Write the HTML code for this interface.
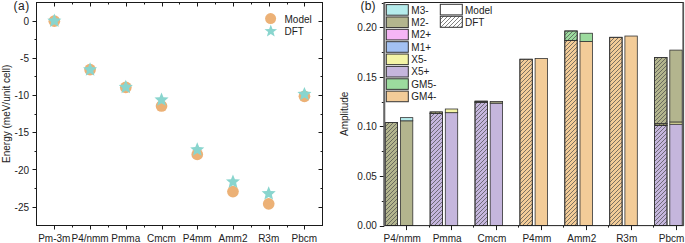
<!DOCTYPE html>
<html><head><meta charset="utf-8"><style>
html,body{margin:0;padding:0;background:#fff;}
body{width:685px;height:243px;overflow:hidden;}
svg{display:block;}
</style></head><body>
<svg width="685" height="243" viewBox="0 0 685 243">
<defs><pattern id="hatch" patternUnits="userSpaceOnUse" x="0" y="0" width="4" height="4">
<path d="M-1,1 L1,-1 M0,4 L4,0 M3,5 L5,3" stroke="#4a4a4a" stroke-width="0.7"/></pattern></defs>
<line x1="54.5" y1="225.5" x2="54.5" y2="229.5" stroke="#1a1a1a" stroke-width="1"/>
<line x1="54.5" y1="2.5" x2="54.5" y2="6.5" stroke="#1a1a1a" stroke-width="1"/>
<line x1="90.5" y1="225.5" x2="90.5" y2="229.5" stroke="#1a1a1a" stroke-width="1"/>
<line x1="90.5" y1="2.5" x2="90.5" y2="6.5" stroke="#1a1a1a" stroke-width="1"/>
<line x1="126.5" y1="225.5" x2="126.5" y2="229.5" stroke="#1a1a1a" stroke-width="1"/>
<line x1="126.5" y1="2.5" x2="126.5" y2="6.5" stroke="#1a1a1a" stroke-width="1"/>
<line x1="162.5" y1="225.5" x2="162.5" y2="229.5" stroke="#1a1a1a" stroke-width="1"/>
<line x1="162.5" y1="2.5" x2="162.5" y2="6.5" stroke="#1a1a1a" stroke-width="1"/>
<line x1="197.5" y1="225.5" x2="197.5" y2="229.5" stroke="#1a1a1a" stroke-width="1"/>
<line x1="197.5" y1="2.5" x2="197.5" y2="6.5" stroke="#1a1a1a" stroke-width="1"/>
<line x1="233.5" y1="225.5" x2="233.5" y2="229.5" stroke="#1a1a1a" stroke-width="1"/>
<line x1="233.5" y1="2.5" x2="233.5" y2="6.5" stroke="#1a1a1a" stroke-width="1"/>
<line x1="269.5" y1="225.5" x2="269.5" y2="229.5" stroke="#1a1a1a" stroke-width="1"/>
<line x1="269.5" y1="2.5" x2="269.5" y2="6.5" stroke="#1a1a1a" stroke-width="1"/>
<line x1="304.5" y1="225.5" x2="304.5" y2="229.5" stroke="#1a1a1a" stroke-width="1"/>
<line x1="304.5" y1="2.5" x2="304.5" y2="6.5" stroke="#1a1a1a" stroke-width="1"/>
<line x1="72.5" y1="225.5" x2="72.5" y2="227.5" stroke="#1a1a1a" stroke-width="1"/>
<line x1="72.5" y1="2.5" x2="72.5" y2="4.5" stroke="#1a1a1a" stroke-width="1"/>
<line x1="108.5" y1="225.5" x2="108.5" y2="227.5" stroke="#1a1a1a" stroke-width="1"/>
<line x1="108.5" y1="2.5" x2="108.5" y2="4.5" stroke="#1a1a1a" stroke-width="1"/>
<line x1="144.5" y1="225.5" x2="144.5" y2="227.5" stroke="#1a1a1a" stroke-width="1"/>
<line x1="144.5" y1="2.5" x2="144.5" y2="4.5" stroke="#1a1a1a" stroke-width="1"/>
<line x1="179.5" y1="225.5" x2="179.5" y2="227.5" stroke="#1a1a1a" stroke-width="1"/>
<line x1="179.5" y1="2.5" x2="179.5" y2="4.5" stroke="#1a1a1a" stroke-width="1"/>
<line x1="215.5" y1="225.5" x2="215.5" y2="227.5" stroke="#1a1a1a" stroke-width="1"/>
<line x1="215.5" y1="2.5" x2="215.5" y2="4.5" stroke="#1a1a1a" stroke-width="1"/>
<line x1="251.5" y1="225.5" x2="251.5" y2="227.5" stroke="#1a1a1a" stroke-width="1"/>
<line x1="251.5" y1="2.5" x2="251.5" y2="4.5" stroke="#1a1a1a" stroke-width="1"/>
<line x1="287.5" y1="225.5" x2="287.5" y2="227.5" stroke="#1a1a1a" stroke-width="1"/>
<line x1="287.5" y1="2.5" x2="287.5" y2="4.5" stroke="#1a1a1a" stroke-width="1"/>
<line x1="32.5" y1="21.5" x2="36.5" y2="21.5" stroke="#1a1a1a" stroke-width="1"/>
<line x1="318.5" y1="21.5" x2="322.5" y2="21.5" stroke="#1a1a1a" stroke-width="1"/>
<text x="29.0" y="24.7" text-anchor="end" font-size="10" font-family="Liberation Sans, sans-serif" fill="#222">0</text>
<line x1="32.5" y1="58.5" x2="36.5" y2="58.5" stroke="#1a1a1a" stroke-width="1"/>
<line x1="318.5" y1="58.5" x2="322.5" y2="58.5" stroke="#1a1a1a" stroke-width="1"/>
<text x="29.0" y="61.9" text-anchor="end" font-size="10" font-family="Liberation Sans, sans-serif" fill="#222">-5</text>
<line x1="32.5" y1="95.5" x2="36.5" y2="95.5" stroke="#1a1a1a" stroke-width="1"/>
<line x1="318.5" y1="95.5" x2="322.5" y2="95.5" stroke="#1a1a1a" stroke-width="1"/>
<text x="29.0" y="99.1" text-anchor="end" font-size="10" font-family="Liberation Sans, sans-serif" fill="#222">-10</text>
<line x1="32.5" y1="132.5" x2="36.5" y2="132.5" stroke="#1a1a1a" stroke-width="1"/>
<line x1="318.5" y1="132.5" x2="322.5" y2="132.5" stroke="#1a1a1a" stroke-width="1"/>
<text x="29.0" y="136.3" text-anchor="end" font-size="10" font-family="Liberation Sans, sans-serif" fill="#222">-15</text>
<line x1="32.5" y1="169.5" x2="36.5" y2="169.5" stroke="#1a1a1a" stroke-width="1"/>
<line x1="318.5" y1="169.5" x2="322.5" y2="169.5" stroke="#1a1a1a" stroke-width="1"/>
<text x="29.0" y="173.5" text-anchor="end" font-size="10" font-family="Liberation Sans, sans-serif" fill="#222">-20</text>
<line x1="32.5" y1="207.5" x2="36.5" y2="207.5" stroke="#1a1a1a" stroke-width="1"/>
<line x1="318.5" y1="207.5" x2="322.5" y2="207.5" stroke="#1a1a1a" stroke-width="1"/>
<text x="29.0" y="210.7" text-anchor="end" font-size="10" font-family="Liberation Sans, sans-serif" fill="#222">-25</text>
<line x1="34.5" y1="39.5" x2="36.5" y2="39.5" stroke="#1a1a1a" stroke-width="1"/>
<line x1="320.5" y1="39.5" x2="322.5" y2="39.5" stroke="#1a1a1a" stroke-width="1"/>
<line x1="34.5" y1="76.5" x2="36.5" y2="76.5" stroke="#1a1a1a" stroke-width="1"/>
<line x1="320.5" y1="76.5" x2="322.5" y2="76.5" stroke="#1a1a1a" stroke-width="1"/>
<line x1="34.5" y1="114.5" x2="36.5" y2="114.5" stroke="#1a1a1a" stroke-width="1"/>
<line x1="320.5" y1="114.5" x2="322.5" y2="114.5" stroke="#1a1a1a" stroke-width="1"/>
<line x1="34.5" y1="151.5" x2="36.5" y2="151.5" stroke="#1a1a1a" stroke-width="1"/>
<line x1="320.5" y1="151.5" x2="322.5" y2="151.5" stroke="#1a1a1a" stroke-width="1"/>
<line x1="34.5" y1="188.5" x2="36.5" y2="188.5" stroke="#1a1a1a" stroke-width="1"/>
<line x1="320.5" y1="188.5" x2="322.5" y2="188.5" stroke="#1a1a1a" stroke-width="1"/>
<rect x="36.5" y="2.5" width="286.0" height="223.0" fill="none" stroke="#1a1a1a" stroke-width="1"/>
<text x="54.3" y="241.7" text-anchor="middle" font-size="10" font-family="Liberation Sans, sans-serif" fill="#222">Pm-3m</text>
<text x="90.1" y="241.7" text-anchor="middle" font-size="10" font-family="Liberation Sans, sans-serif" fill="#222">P4/nmm</text>
<text x="125.8" y="241.7" text-anchor="middle" font-size="10" font-family="Liberation Sans, sans-serif" fill="#222">Pmma</text>
<text x="161.5" y="241.7" text-anchor="middle" font-size="10" font-family="Liberation Sans, sans-serif" fill="#222">Cmcm</text>
<text x="197.2" y="241.7" text-anchor="middle" font-size="10" font-family="Liberation Sans, sans-serif" fill="#222">P4mm</text>
<text x="233.0" y="241.7" text-anchor="middle" font-size="10" font-family="Liberation Sans, sans-serif" fill="#222">Amm2</text>
<text x="268.7" y="241.7" text-anchor="middle" font-size="10" font-family="Liberation Sans, sans-serif" fill="#222">R3m</text>
<text x="304.4" y="241.7" text-anchor="middle" font-size="10" font-family="Liberation Sans, sans-serif" fill="#222">Pbcm</text>
<circle cx="54.34" cy="21.20" r="5.85" fill="#ECB176"/>
<circle cx="90.07" cy="69.56" r="5.85" fill="#ECB176"/>
<circle cx="125.79" cy="87.42" r="5.85" fill="#ECB176"/>
<circle cx="161.52" cy="106.02" r="5.85" fill="#ECB176"/>
<circle cx="197.25" cy="154.38" r="5.85" fill="#ECB176"/>
<circle cx="232.97" cy="191.58" r="5.85" fill="#ECB176"/>
<circle cx="268.70" cy="203.85" r="5.85" fill="#ECB176"/>
<circle cx="304.43" cy="96.34" r="5.85" fill="#ECB176"/>
<polygon points="54.34,13.60 56.28,18.33 61.38,18.71 57.48,22.02 58.69,26.99 54.34,24.30 49.99,26.99 51.20,22.02 47.30,18.71 52.40,18.33" fill="#89D5CE"/>
<polygon points="90.07,62.33 92.01,67.06 97.10,67.45 93.21,70.75 94.42,75.72 90.07,73.03 85.72,75.72 86.93,70.75 83.03,67.45 88.13,67.06" fill="#89D5CE"/>
<polygon points="125.79,79.82 127.73,84.55 132.83,84.93 128.93,88.24 130.14,93.20 125.79,90.52 121.44,93.20 122.66,88.24 118.76,84.93 123.85,84.55" fill="#89D5CE"/>
<polygon points="161.52,92.46 163.46,97.19 168.56,97.58 164.66,100.88 165.87,105.85 161.52,103.16 157.17,105.85 158.38,100.88 154.48,97.58 159.58,97.19" fill="#89D5CE"/>
<polygon points="197.25,142.31 199.19,147.04 204.29,147.43 200.39,150.73 201.60,155.70 197.25,153.01 192.90,155.70 194.11,150.73 190.21,147.43 195.31,147.04" fill="#89D5CE"/>
<polygon points="232.97,174.45 234.91,179.18 240.01,179.57 236.11,182.87 237.32,187.84 232.97,185.15 228.63,187.84 229.84,182.87 225.94,179.57 231.04,179.18" fill="#89D5CE"/>
<polygon points="268.70,186.21 270.64,190.94 275.74,191.32 271.84,194.63 273.05,199.59 268.70,196.91 264.35,199.59 265.56,194.63 261.66,191.32 266.76,190.94" fill="#89D5CE"/>
<polygon points="304.43,86.88 306.37,91.61 311.47,92.00 307.57,95.30 308.78,100.27 304.43,97.58 300.08,100.27 301.29,95.30 297.39,92.00 302.49,91.61" fill="#89D5CE"/>
<circle cx="270.6" cy="18.6" r="5.5" fill="#ECB176"/>
<polygon points="270.80,24.60 272.45,28.93 277.08,29.16 273.46,32.07 274.68,36.54 270.80,34.00 266.92,36.54 268.14,32.07 264.52,29.16 269.15,28.93" fill="#89D5CE"/>
<text x="284.5" y="23" font-size="10" font-family="Liberation Sans, sans-serif" fill="#222">Model</text>
<text x="284.5" y="34.6" font-size="10" font-family="Liberation Sans, sans-serif" fill="#222">DFT</text>
<text x="13.5" y="9.7" font-size="12" letter-spacing="0.5" font-family="Liberation Sans, sans-serif" fill="#222">(a)</text>
<text transform="translate(9.6,113.8) rotate(-90)" text-anchor="middle" font-size="10" font-family="Liberation Sans, sans-serif" fill="#222">Energy (meV/unit cell)</text>
<line x1="406.5" y1="225.6" x2="406.5" y2="230.1" stroke="#1a1a1a" stroke-width="1"/>
<line x1="429.5" y1="225.6" x2="429.5" y2="227.6" stroke="#1a1a1a" stroke-width="1"/>
<line x1="451.5" y1="225.6" x2="451.5" y2="230.1" stroke="#1a1a1a" stroke-width="1"/>
<line x1="473.5" y1="225.6" x2="473.5" y2="227.6" stroke="#1a1a1a" stroke-width="1"/>
<line x1="496.5" y1="225.6" x2="496.5" y2="230.1" stroke="#1a1a1a" stroke-width="1"/>
<line x1="518.5" y1="225.6" x2="518.5" y2="227.6" stroke="#1a1a1a" stroke-width="1"/>
<line x1="541.5" y1="225.6" x2="541.5" y2="230.1" stroke="#1a1a1a" stroke-width="1"/>
<line x1="563.5" y1="225.6" x2="563.5" y2="227.6" stroke="#1a1a1a" stroke-width="1"/>
<line x1="586.5" y1="225.6" x2="586.5" y2="230.1" stroke="#1a1a1a" stroke-width="1"/>
<line x1="608.5" y1="225.6" x2="608.5" y2="227.6" stroke="#1a1a1a" stroke-width="1"/>
<line x1="631.5" y1="225.6" x2="631.5" y2="230.1" stroke="#1a1a1a" stroke-width="1"/>
<line x1="653.5" y1="225.6" x2="653.5" y2="227.6" stroke="#1a1a1a" stroke-width="1"/>
<line x1="676.5" y1="225.6" x2="676.5" y2="230.1" stroke="#1a1a1a" stroke-width="1"/>
<line x1="379.8" y1="226.5" x2="384.3" y2="226.5" stroke="#1a1a1a" stroke-width="1"/>
<text x="376.8" y="229.2" text-anchor="end" font-size="10" font-family="Liberation Sans, sans-serif" fill="#222">0.00</text>
<line x1="379.8" y1="176.5" x2="384.3" y2="176.5" stroke="#1a1a1a" stroke-width="1"/>
<text x="376.8" y="179.6" text-anchor="end" font-size="10" font-family="Liberation Sans, sans-serif" fill="#222">0.05</text>
<line x1="379.8" y1="126.5" x2="384.3" y2="126.5" stroke="#1a1a1a" stroke-width="1"/>
<text x="376.8" y="130.0" text-anchor="end" font-size="10" font-family="Liberation Sans, sans-serif" fill="#222">0.10</text>
<line x1="379.8" y1="77.5" x2="384.3" y2="77.5" stroke="#1a1a1a" stroke-width="1"/>
<text x="376.8" y="80.5" text-anchor="end" font-size="10" font-family="Liberation Sans, sans-serif" fill="#222">0.15</text>
<line x1="379.8" y1="27.5" x2="384.3" y2="27.5" stroke="#1a1a1a" stroke-width="1"/>
<text x="376.8" y="30.9" text-anchor="end" font-size="10" font-family="Liberation Sans, sans-serif" fill="#222">0.20</text>
<line x1="381.8" y1="201.5" x2="384.3" y2="201.5" stroke="#1a1a1a" stroke-width="1"/>
<line x1="381.8" y1="151.5" x2="384.3" y2="151.5" stroke="#1a1a1a" stroke-width="1"/>
<line x1="381.8" y1="102.5" x2="384.3" y2="102.5" stroke="#1a1a1a" stroke-width="1"/>
<line x1="381.8" y1="52.5" x2="384.3" y2="52.5" stroke="#1a1a1a" stroke-width="1"/>
<line x1="381.8" y1="3.5" x2="384.3" y2="3.5" stroke="#1a1a1a" stroke-width="1"/>
<rect x="385.20" y="122.48" width="12.4" height="103.12" fill="#B3B58E" stroke="#333" stroke-width="0.8"/>
<rect x="385.20" y="122.48" width="12.4" height="103.12" fill="url(#hatch)" stroke="#333" stroke-width="0.8"/>
<rect x="400.40" y="120.80" width="12.4" height="104.80" fill="#B3B58E" stroke="#333" stroke-width="0.8"/>
<rect x="400.40" y="117.63" width="12.4" height="3.17" fill="#B5ECEC" stroke="#333" stroke-width="0.8"/>
<rect x="430.10" y="113.56" width="12.4" height="112.04" fill="#C5B6DD" stroke="#333" stroke-width="0.8"/>
<rect x="430.10" y="113.56" width="12.4" height="112.04" fill="url(#hatch)" stroke="#333" stroke-width="0.8"/>
<rect x="430.10" y="111.97" width="12.4" height="1.59" fill="#F4F4A6" stroke="#333" stroke-width="0.8"/>
<rect x="430.10" y="111.97" width="12.4" height="1.59" fill="url(#hatch)" stroke="#333" stroke-width="0.8"/>
<rect x="445.30" y="112.67" width="12.4" height="112.93" fill="#C5B6DD" stroke="#333" stroke-width="0.8"/>
<rect x="445.30" y="109.00" width="12.4" height="3.67" fill="#F4F4A6" stroke="#333" stroke-width="0.8"/>
<rect x="475.00" y="102.16" width="12.4" height="123.44" fill="#C5B6DD" stroke="#333" stroke-width="0.8"/>
<rect x="475.00" y="102.16" width="12.4" height="123.44" fill="url(#hatch)" stroke="#333" stroke-width="0.8"/>
<rect x="475.00" y="101.17" width="12.4" height="0.99" fill="#B3B58E" stroke="#333" stroke-width="0.8"/>
<rect x="475.00" y="101.17" width="12.4" height="0.99" fill="url(#hatch)" stroke="#333" stroke-width="0.8"/>
<rect x="490.20" y="103.15" width="12.4" height="122.45" fill="#C5B6DD" stroke="#333" stroke-width="0.8"/>
<rect x="490.20" y="101.46" width="12.4" height="1.69" fill="#B3B58E" stroke="#333" stroke-width="0.8"/>
<rect x="519.90" y="59.23" width="12.4" height="166.37" fill="#F3CC98" stroke="#333" stroke-width="0.8"/>
<rect x="519.90" y="59.23" width="12.4" height="166.37" fill="url(#hatch)" stroke="#333" stroke-width="0.8"/>
<rect x="535.10" y="58.43" width="12.4" height="167.17" fill="#F3CC98" stroke="#333" stroke-width="0.8"/>
<rect x="564.80" y="40.39" width="12.4" height="185.21" fill="#F3CC98" stroke="#333" stroke-width="0.8"/>
<rect x="564.80" y="40.39" width="12.4" height="185.21" fill="url(#hatch)" stroke="#333" stroke-width="0.8"/>
<rect x="564.80" y="30.97" width="12.4" height="9.42" fill="#9CDB9E" stroke="#333" stroke-width="0.8"/>
<rect x="564.80" y="30.97" width="12.4" height="9.42" fill="url(#hatch)" stroke="#333" stroke-width="0.8"/>
<rect x="580.00" y="41.48" width="12.4" height="184.12" fill="#F3CC98" stroke="#333" stroke-width="0.8"/>
<rect x="580.00" y="33.25" width="12.4" height="8.23" fill="#9CDB9E" stroke="#333" stroke-width="0.8"/>
<rect x="609.70" y="37.31" width="12.4" height="188.29" fill="#F3CC98" stroke="#333" stroke-width="0.8"/>
<rect x="609.70" y="37.31" width="12.4" height="188.29" fill="url(#hatch)" stroke="#333" stroke-width="0.8"/>
<rect x="624.90" y="36.03" width="12.4" height="189.57" fill="#F3CC98" stroke="#333" stroke-width="0.8"/>
<rect x="654.60" y="125.46" width="12.4" height="100.14" fill="#C5B6DD" stroke="#333" stroke-width="0.8"/>
<rect x="654.60" y="125.46" width="12.4" height="100.14" fill="url(#hatch)" stroke="#333" stroke-width="0.8"/>
<rect x="654.60" y="123.77" width="12.4" height="1.69" fill="#F4F4A6" stroke="#333" stroke-width="0.8"/>
<rect x="654.60" y="123.77" width="12.4" height="1.69" fill="url(#hatch)" stroke="#333" stroke-width="0.8"/>
<rect x="654.60" y="57.54" width="12.4" height="66.23" fill="#B3B58E" stroke="#333" stroke-width="0.8"/>
<rect x="654.60" y="57.54" width="12.4" height="66.23" fill="url(#hatch)" stroke="#333" stroke-width="0.8"/>
<rect x="669.80" y="124.17" width="12.4" height="101.43" fill="#C5B6DD" stroke="#333" stroke-width="0.8"/>
<rect x="669.80" y="121.99" width="12.4" height="2.18" fill="#F4F4A6" stroke="#333" stroke-width="0.8"/>
<rect x="669.80" y="50.10" width="12.4" height="71.88" fill="#B3B58E" stroke="#333" stroke-width="0.8"/>
<rect x="384.3" y="2.5" width="298.99999999999994" height="223.1" fill="none" stroke="#222" stroke-width="1"/>
<line x1="384.3" y1="2.5" x2="384.3" y2="225.6" stroke="#666" stroke-width="2"/>
<line x1="683.3" y1="2.5" x2="683.3" y2="225.6" stroke="#555" stroke-width="1.6"/>
<text x="402.2" y="241.7" text-anchor="middle" font-size="10" font-family="Liberation Sans, sans-serif" fill="#222">P4/nmm</text>
<text x="447.1" y="241.7" text-anchor="middle" font-size="10" font-family="Liberation Sans, sans-serif" fill="#222">Pmma</text>
<text x="492.0" y="241.7" text-anchor="middle" font-size="10" font-family="Liberation Sans, sans-serif" fill="#222">Cmcm</text>
<text x="536.9" y="241.7" text-anchor="middle" font-size="10" font-family="Liberation Sans, sans-serif" fill="#222">P4mm</text>
<text x="581.8" y="241.7" text-anchor="middle" font-size="10" font-family="Liberation Sans, sans-serif" fill="#222">Amm2</text>
<text x="626.7" y="241.7" text-anchor="middle" font-size="10" font-family="Liberation Sans, sans-serif" fill="#222">R3m</text>
<text x="671.6" y="241.7" text-anchor="middle" font-size="10" font-family="Liberation Sans, sans-serif" fill="#222">Pbcm</text>
<rect x="386.3" y="4.60" width="22" height="10.6" fill="#B5ECEC" stroke="#333" stroke-width="1"/>
<text x="411.3" y="13.50" font-size="10" font-family="Liberation Sans, sans-serif" fill="#222">M3-</text>
<rect x="386.3" y="16.96" width="22" height="10.6" fill="#B3B58E" stroke="#333" stroke-width="1"/>
<text x="411.3" y="25.86" font-size="10" font-family="Liberation Sans, sans-serif" fill="#222">M2-</text>
<rect x="386.3" y="29.32" width="22" height="10.6" fill="#F5B5F5" stroke="#333" stroke-width="1"/>
<text x="411.3" y="38.22" font-size="10" font-family="Liberation Sans, sans-serif" fill="#222">M2+</text>
<rect x="386.3" y="41.68" width="22" height="10.6" fill="#A3C1F2" stroke="#333" stroke-width="1"/>
<text x="411.3" y="50.58" font-size="10" font-family="Liberation Sans, sans-serif" fill="#222">M1+</text>
<rect x="386.3" y="54.04" width="22" height="10.6" fill="#F4F4A6" stroke="#333" stroke-width="1"/>
<text x="411.3" y="62.94" font-size="10" font-family="Liberation Sans, sans-serif" fill="#222">X5-</text>
<rect x="386.3" y="66.40" width="22" height="10.6" fill="#C5B6DD" stroke="#333" stroke-width="1"/>
<text x="411.3" y="75.30" font-size="10" font-family="Liberation Sans, sans-serif" fill="#222">X5+</text>
<rect x="386.3" y="78.76" width="22" height="10.6" fill="#9CDB9E" stroke="#333" stroke-width="1"/>
<text x="411.3" y="87.66" font-size="10" font-family="Liberation Sans, sans-serif" fill="#222">GM5-</text>
<rect x="386.3" y="91.12" width="22" height="10.6" fill="#F3CC98" stroke="#333" stroke-width="1"/>
<text x="411.3" y="100.02" font-size="10" font-family="Liberation Sans, sans-serif" fill="#222">GM4-</text>
<rect x="440.3" y="4.3" width="22" height="10.6" fill="#fff" stroke="#333" stroke-width="1"/>
<rect x="440.3" y="16.3" width="22" height="11" fill="url(#hatch)" stroke="#333" stroke-width="1"/>
<text x="465" y="13.6" font-size="10" font-family="Liberation Sans, sans-serif" fill="#222">Model</text>
<text x="465" y="25.9" font-size="10" font-family="Liberation Sans, sans-serif" fill="#222">DFT</text>
<text x="360.5" y="10" font-size="12" letter-spacing="0.2" font-family="Liberation Sans, sans-serif" fill="#222">(b)</text>
<text transform="translate(347.9,113.8) rotate(-90)" text-anchor="middle" font-size="10" font-family="Liberation Sans, sans-serif" fill="#222">Amplitude</text>
</svg>
</body></html>
